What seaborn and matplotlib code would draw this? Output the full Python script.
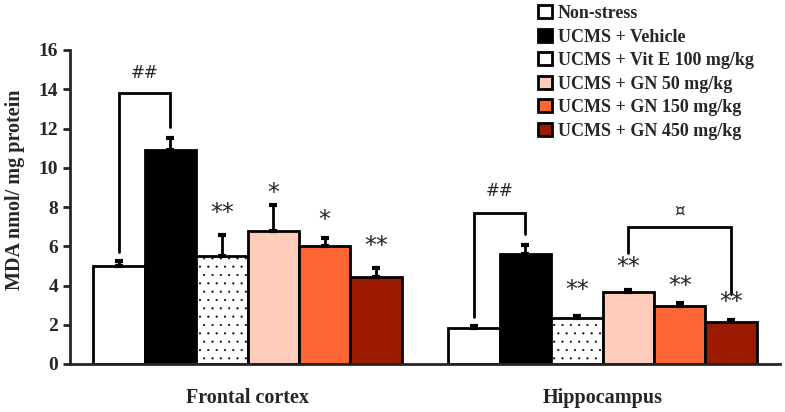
import pandas as pd
import matplotlib.pyplot as plt
import seaborn as sns

regions = ["Frontal cortex", "Hippocampus"]
groups = ["Non-stress", "UCMS + Vehicle", "UCMS + Vit E 100 mg/kg",
          "UCMS + GN 50 mg/kg", "UCMS + GN 150 mg/kg", "UCMS + GN 450 mg/kg"]
frontal_mean = [5.0, 10.9, 5.5, 6.8, 6.0, 4.45]
frontal_err = [0.25, 0.6, 1.05, 1.3, 0.4, 0.45]
hippo_mean = [1.84, 5.62, 2.35, 3.68, 2.93, 2.12]
hippo_err = [0.08, 0.42, 0.1, 0.1, 0.16, 0.13]
frontal_marks = ["", "", "**", "*", "*", "**"]
hippo_marks = ["", "", "**", "**", "**", "**"]
colors = ["#FFFFFF", "#000000", "#FFFFFF", "#FFCBBB", "#FF6633", "#9C1A00"]

df = pd.DataFrame({
    "region": [r for r in regions for _ in groups],
    "group": groups * 2,
    "MDA": frontal_mean + hippo_mean,
})

sns.set_style("white")
plt.rcParams["font.family"] = ["Liberation Serif", "DejaVu Serif"]
plt.rcParams["font.weight"] = "bold"
plt.rcParams["hatch.linewidth"] = 0.3

fig = plt.figure(figsize=(7.85, 4.12), dpi=100)
ax = fig.add_axes([70 / 785, (412 - 364) / 412, (780 - 70) / 785, (364 - 50) / 412])

sns.barplot(data=df, x="region", y="MDA", hue="group", hue_order=groups,
            palette=colors, saturation=1, width=0.87, gap=0, edgecolor="black",
            linewidth=2, errorbar=None, ax=ax, legend=False)

# bars come out ordered by hue then region
bars = ax.patches
errs = [frontal_err, hippo_err]
marks = [frontal_marks, hippo_marks]
means = [frontal_mean, hippo_mean]
centers = {}
for gi in range(len(groups)):
    for ri in range(len(regions)):
        bar = bars[gi * len(regions) + ri]
        cx = bar.get_x() + bar.get_width() / 2
        centers[(ri, gi)] = cx
        if gi == 2:
            bar.set_hatch("..")
        ax.errorbar(cx, means[ri][gi], yerr=[[0], [errs[ri][gi]]], color="black",
                    elinewidth=2, capsize=3, capthick=3, zorder=3)

# star positions
star_y = {(0, 2): 7.7, (0, 3): 8.7, (0, 4): 7.35, (0, 5): 6.0,
          (1, 2): 3.78, (1, 3): 4.95, (1, 4): 4.0, (1, 5): 3.16}
for (ri, gi), y in star_y.items():
    ax.text(centers[(ri, gi)], y, marks[ri][gi], ha="center", va="center",
            fontsize=17, fontweight="normal", family="DejaVu Sans")


def bracket(x1, x2, top, y1, y2, label, label_y):
    ax.plot([x1, x1, x2, x2], [y1, top, top, y2], color="black", lw=2,
            solid_joinstyle="miter")
    ax.text((x1 + x2) / 2, label_y, label, ha="center", va="center",
            fontsize=12, fontweight="normal", family="DejaVu Sans")


bracket(centers[(0, 0)], centers[(0, 1)], 13.8, 5.7, 12.1, "##", 14.85)
bracket(centers[(1, 0)], centers[(1, 1)], 7.7, 2.4, 6.6, "##", 8.8)
bracket(centers[(1, 3)], centers[(1, 5)], 7.0, 5.66, 3.57, "¤", 7.8)

ax.set_ylim(0, 16)
ax.set_yticks(range(0, 17, 2))
ax.set_xlim(-0.5, 1.5)
ax.set_xlabel("")
ax.set_ylabel("MDA nmol/ mg protein", fontsize=14.5, fontweight="bold")
ax.yaxis.set_label_coords(-0.064, 0.555)
ax.tick_params(axis="y", labelsize=14, length=5, width=2, direction="out", left=True)
ax.tick_params(axis="x", labelsize=14.5, length=0, pad=17)
for lab in ax.get_xticklabels() + ax.get_yticklabels():
    lab.set_fontweight("bold")
sns.despine(ax=ax)
ax.spines["left"].set_linewidth(2)
ax.spines["bottom"].set_linewidth(2)

handles = [plt.Rectangle((0, 0), 1, 1, facecolor=c, edgecolor="black", linewidth=2)
           for c in colors]
fig.legend(handles, groups, loc="upper left", bbox_to_anchor=(531 / 785, 1.005),
           frameon=False, handlelength=0.75, handleheight=0.75,
           handletextpad=0.35, labelspacing=0.36, borderaxespad=0.0,
           prop={"weight": "bold", "size": 13})

plt.savefig("out.png", dpi=100)
